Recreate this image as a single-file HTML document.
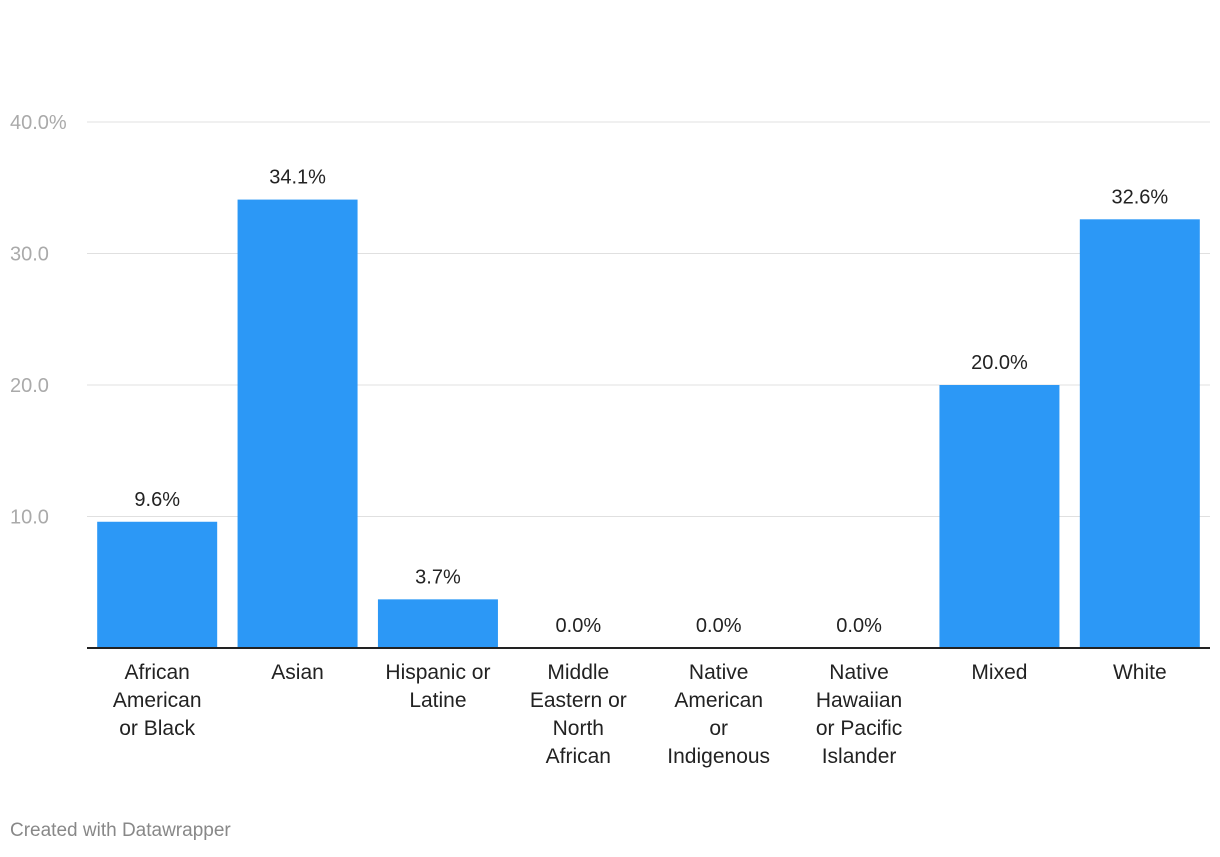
<!DOCTYPE html>
<html><head><meta charset="utf-8"><style>
body{margin:0;background:#fff;width:1220px;height:852px;overflow:hidden;font-family:"Liberation Sans",Arial,sans-serif}
svg text{font-family:"Liberation Sans",Arial,sans-serif}
</style></head><body>
<svg id="chart" width="1220" height="852" xmlns="http://www.w3.org/2000/svg">
<g id="grid"></g><g id="bars"></g><g id="labels"></g>
<text x="10" y="836" font-size="19" fill="#888">Created with Datawrapper</text>
</svg>
<script>
const categories=[["African","American","or Black"],["Asian"],["Hispanic or","Latine"],["Middle","Eastern or","North","African"],["Native","American","or","Indigenous"],["Native","Hawaiian","or Pacific","Islander"],["Mixed"],["White"]];
const values=[9.6,34.1,3.7,0.0,0.0,0.0,20.0,32.6];
const ticks=[10,20,30,40];
const tickLabels=["10.0","20.0","30.0","40.0%"];
const NS="http://www.w3.org/2000/svg";
const x0=87,x1=1210,yBase=648,yTop=122,maxV=40;
const band=(x1-x0)/categories.length,bw=120;
const y=v=>yBase-(v/maxV)*(yBase-yTop);
const xc=i=>x0+band*i+band/2;
function mk(t,a,p){const e=document.createElementNS(NS,t);for(const k in a)e.setAttribute(k,a[k]);p.appendChild(e);return e;}
const grid=document.getElementById('grid'),bars=document.getElementById('bars'),labels=document.getElementById('labels');
ticks.forEach((t,i)=>{
 const l=mk('line',{x1:x0,x2:x1,y1:y(t),y2:y(t),stroke:'#e0e0e0','stroke-width':1},grid);
 
 
 const tx=mk('text',{x:10,y:y(t)+7,'font-size':20,fill:'#aaa'},grid);
 tx.textContent=tickLabels[i];
 
 
});
values.forEach((v,i)=>{
 const r=mk('rect',{x:xc(i)-bw/2,y:y(v),width:bw,height:yBase-y(v),fill:'#2c98f6'},bars);
 
 
 const t=mk('text',{x:xc(i),y:y(v)-16,'font-size':20,fill:'#222','text-anchor':'middle'},labels);
 t.textContent=v.toFixed(1)+'%';
 
 
 categories[i].forEach((line,j)=>{
  const c=mk('text',{x:xc(i),y:679+28*j,'font-size':21,fill:'#222','text-anchor':'middle'},labels);
  c.textContent=line;
  
  
 });
});
const ax=mk('line',{x1:x0,x2:x1,y1:yBase,y2:yBase,stroke:'#222','stroke-width':2},labels);


</script>
</body></html>
